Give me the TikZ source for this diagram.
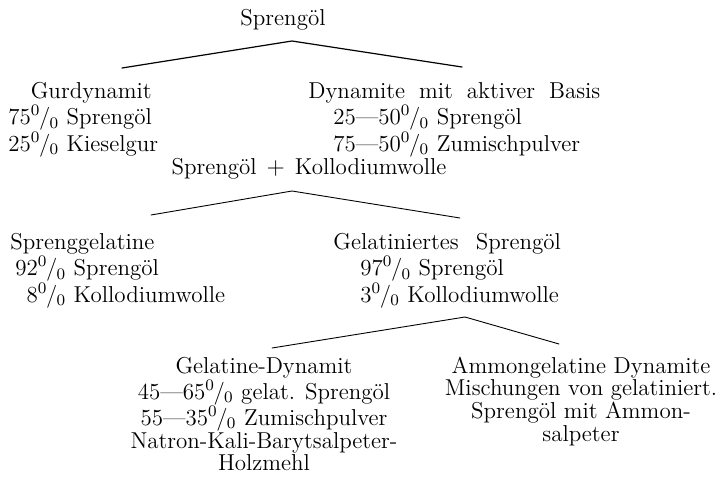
\documentclass[tikz,border=0pt]{standalone}
\usepackage{tikz}
\usetikzlibrary{positioning}
\newcommand{\pz}{\textsuperscript{0}\kern-.06em/\kern-.03em\textsubscript{0}}
\tikzset{el/.style={line cap=round, line join=round},
  lbl/.style={inner sep=0pt, font=\fontsize{11.5}{12}\selectfont},
  br/.style={line width=0.45pt}}

\begin{document}
\begin{tikzpicture}[el, x=0.5pt, y=-0.5pt]
  \useasboundingbox (0,0) rectangle (724,477);
  \node[lbl, anchor=base] (oel) at (283,25) {Sprengöl};
  \node[lbl, anchor=base west] (gur) at (8,98) {\begin{tabular}[t]{@{}l@{}}
    \multicolumn{1}{@{}c@{}}{\hspace*{8pt}Gurdynamit}\\ 75\pz\ Sprengöl\\ 25\pz\ Kieselgur\end{tabular}};
  \node[lbl, anchor=base west] (akt) at (308,98) {\begin{tabular}[t]{@{}l@{}}
    {\spaceskip=7pt Dynamite mit aktiver Basis}\\ \hspace*{12.5pt}25---50\pz\ Sprengöl\\ \hspace*{12.5pt}75---50\pz\ Zumischpulver\end{tabular}};
  \node[lbl, anchor=base] (skw) at (309,174) {\spaceskip=5pt Sprengöl $+$ Kollodiumwolle};
  \node[lbl, anchor=base west] (sgel) at (10,249) {\begin{tabular}[t]{@{}l@{}}
    Sprenggelatine\\ \hspace*{2.5pt}92\pz\ Sprengöl\\ \hspace*{2.5pt}\phantom{9}8\pz\ Kollodiumwolle\end{tabular}};
  \node[lbl, anchor=base west] (gsp) at (333,249) {\begin{tabular}[t]{@{}l@{}}
    {\spaceskip=8.5pt Gelatiniertes Sprengöl}\\ \hspace*{13.5pt}97\pz\ Sprengöl\\ \hspace*{13.5pt}3\pz\ Kollodiumwolle\end{tabular}};
  \node[lbl, anchor=base, font=\fontsize{11.5}{11.3}\selectfont] (gdyn) at (264,373) {\begin{tabular}[t]{@{}c@{}}
    Gelatine-Dynamit\\ 45---65\pz\ gelat. Sprengöl\\ 55---35\pz\ Zumischpulver\\ Natron-Kali-Barytsalpeter-\\ Holzmehl\end{tabular}};
  \node[lbl, anchor=base, font=\fontsize{11.5}{11.3}\selectfont] (amm) at (581,373) {\begin{tabular}[t]{@{}c@{}}
    Ammongelatine Dynamite\\ Mischungen von gelatiniert.\\ Sprengöl mit Ammon-\\ salpeter\end{tabular}};
  % Verzweigungen
  \coordinate (oel-a) at (292,41);  \coordinate (gur-t) at (122,68);  \coordinate (akt-t) at (462,67);
  \coordinate (skw-a) at (292,191); \coordinate (sgel-t) at (151,215); \coordinate (gsp-t) at (460,218);
  \coordinate (gsp-a) at (465,317); \coordinate (gdyn-t) at (272,348); \coordinate (amm-t) at (559,344);
  \draw[line width=0.6pt] (gur-t) -- (oel-a) -- (akt-t);
  \draw[br] (sgel-t) -- (skw-a) -- (gsp-t);
  \draw[br] (gdyn-t) -- (gsp-a) -- (amm-t);
\end{tikzpicture}
\end{document}
